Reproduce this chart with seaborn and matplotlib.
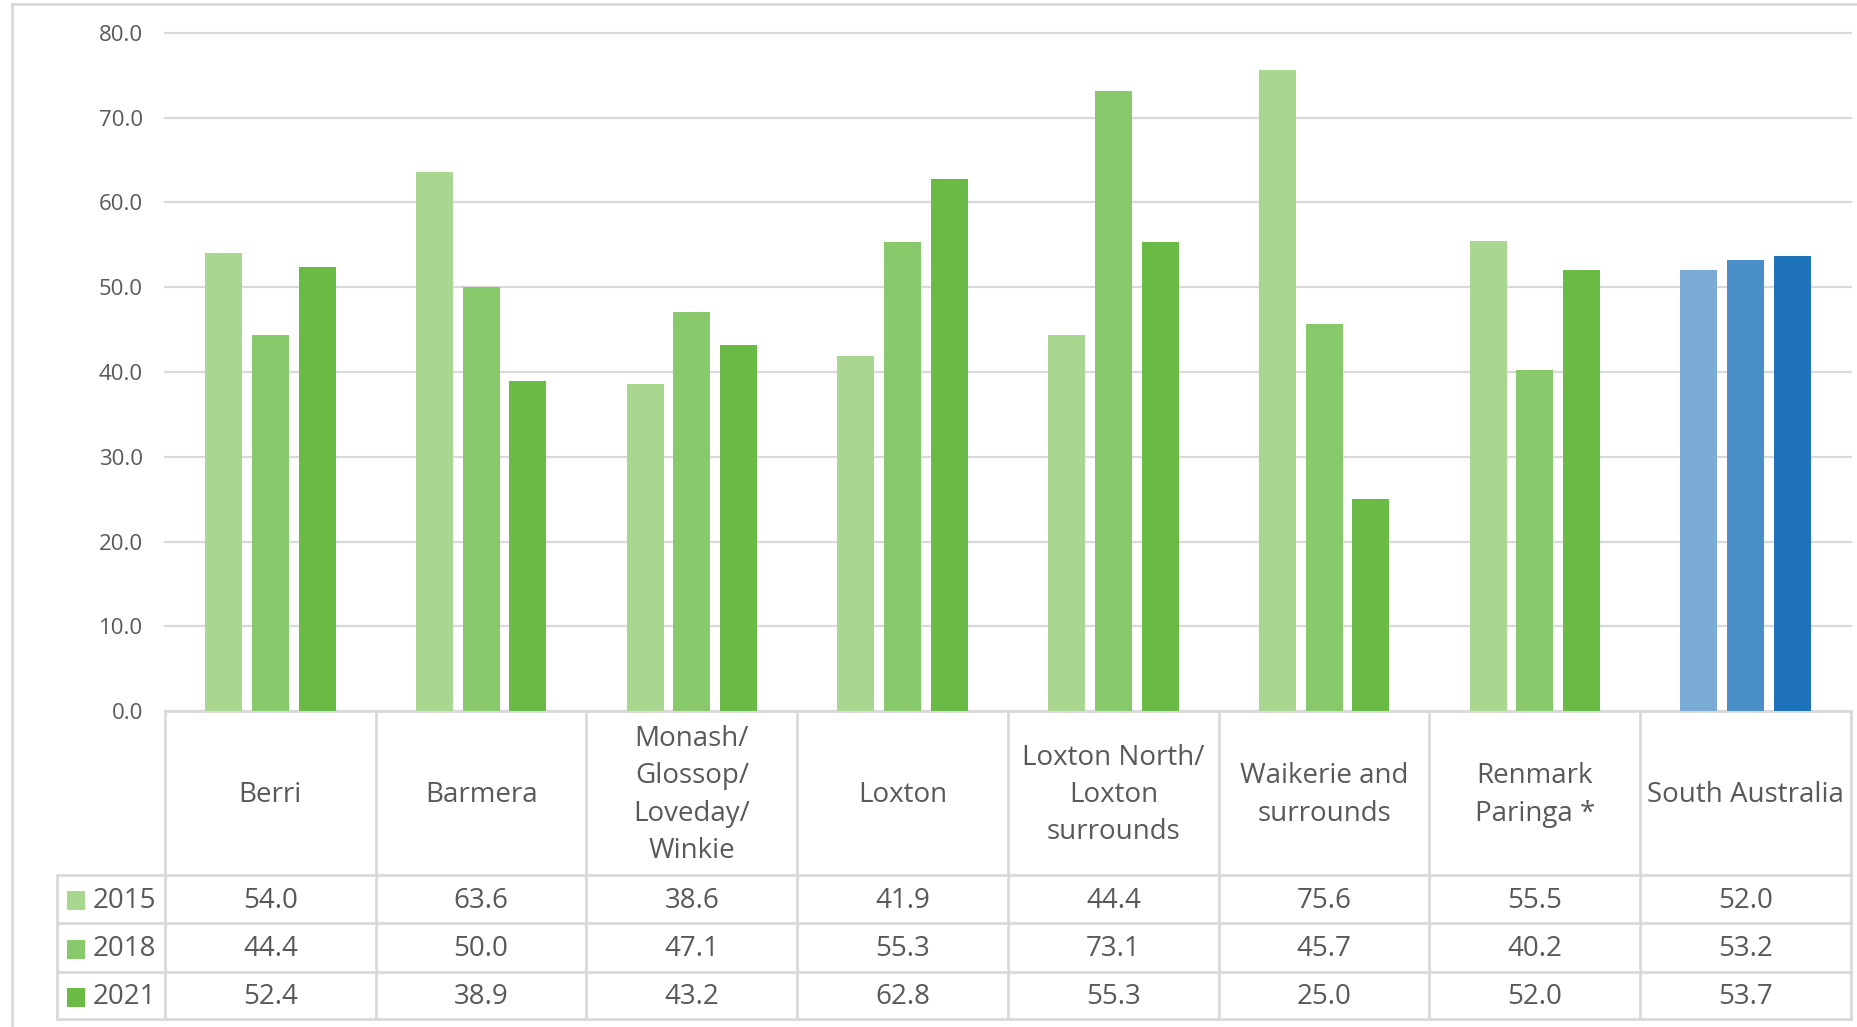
import numpy as np
import pandas as pd
import seaborn as sns
import matplotlib.pyplot as plt
from matplotlib.patches import Rectangle

areas = ["Berri", "Barmera", "Monash/\nGlossop/\nLoveday/\nWinkie", "Loxton",
         "Loxton North/\nLoxton\nsurrounds", "Waikerie and\nsurrounds",
         "Renmark\nParinga *", "South Australia"]
years = ["2015", "2018", "2021"]
v2015 = [54.0, 63.6, 38.6, 41.9, 44.4, 75.6, 55.5, 52.0]
v2018 = [44.4, 50.0, 47.1, 55.3, 73.1, 45.7, 40.2, 53.2]
v2021 = [52.4, 38.9, 43.2, 62.8, 55.3, 25.0, 52.0, 53.7]

greens = ["#A9D78F", "#88C96B", "#6ABB46"]
blues = ["#7AACD5", "#4A8FC8", "#1F73BA"]
grid_col = "#D9D9D9"
txt_col = "#595959"

sns.set_style("white")
plt.rcParams["font.family"] = ["Open Sans", "DejaVu Sans"]

df = pd.DataFrame({
    "area": areas * 3,
    "year": [y for y in years for _ in areas],
    "value": v2015 + v2018 + v2021,
})

W, H = 1858, 1027
fig = plt.figure(figsize=(W / 100, H / 100), dpi=100)

# table / frame overlay in pixel coordinates
ov = fig.add_axes([0, 0, 1, 1])
ov.set_xlim(0, W)
ov.set_ylim(H, 0)
ov.axis("off")

left, right, y0, ytop = 165, 1851, 711, 33
ax = fig.add_axes([left / W, 1 - y0 / H, (right - left) / W, (y0 - ytop) / H])
ax.patch.set_visible(False)

sns.barplot(data=df, x="area", y="value", hue="year", palette=greens,
            saturation=1, width=0.666, gap=0.21, linewidth=0, legend=False, ax=ax)

# South Australia in blue
for i, cont in enumerate(ax.containers):
    cont.patches[-1].set_facecolor(blues[i])

ax.set_xlim(-0.5, len(areas) - 0.5)
ax.set_ylim(0, 80)
ax.set_yticks(np.arange(0, 81, 10))
ax.set_yticklabels([f"{t:.1f}" for t in np.arange(0, 81, 10)], fontsize=16, color=txt_col)
ax.set_xticks([])
ax.set_xlabel("")
ax.set_ylabel("")
ax.tick_params(axis="y", length=0, pad=16)
ax.grid(axis="y", color=grid_col, linewidth=1.6)
ax.set_axisbelow(True)
for s in ax.spines.values():
    s.set_visible(False)
for g in ax.get_ygridlines():
    g.set_clip_on(False)

# outer frame
ov.plot([12, 12], [4, H], color=grid_col, lw=2)
ov.plot([12, W], [4, 4], color=grid_col, lw=2)

# data table
xe = np.linspace(left, right, len(areas) + 1)
rows = [875, 923, 972, 1019]
lc = 57
ov.plot([left, right], [y0, y0], color=grid_col, lw=2)
for x in xe:
    ov.plot([x, x], [y0, rows[-1]], color=grid_col, lw=2)
ov.plot([lc, lc], [rows[0], rows[-1]], color=grid_col, lw=2)
for y in rows:
    ov.plot([lc, right], [y, y], color=grid_col, lw=2)

fs = 20
for i, name in enumerate(areas):
    cx = (xe[i] + xe[i + 1]) / 2
    ov.text(cx, (y0 + rows[0]) / 2 + 2, name, ha="center", va="center",
            fontsize=fs, color=txt_col, linespacing=1.43)

series = [v2015, v2018, v2021]
for r, (yr, vals) in enumerate(zip(years, series)):
    cy = (rows[r] + rows[r + 1]) / 2 + 2
    ov.add_patch(Rectangle((67, cy - 10), 18, 19, color=greens[r], lw=0))
    ov.text(93, cy, yr, ha="left", va="center", fontsize=fs, color=txt_col)
    for i, v in enumerate(vals):
        cx = (xe[i] + xe[i + 1]) / 2
        ov.text(cx, cy, f"{v:.1f}", ha="center", va="center", fontsize=fs, color=txt_col)

fig.savefig("out.png", dpi=100)
